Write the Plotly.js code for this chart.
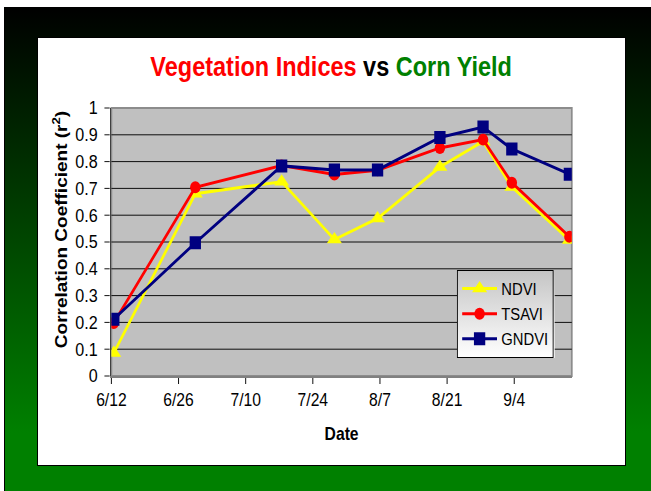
<!DOCTYPE html>
<html>
<head>
<meta charset="utf-8">
<script src="https://cdn.plot.ly/plotly-3.0.1.min.js"></script>
<style>
html,body{margin:0;padding:0;width:651px;height:491px;overflow:hidden;background:#fff}
#bg{position:absolute;left:4px;top:7px;width:647px;height:484px;background:linear-gradient(to bottom,#000000 0%,#008000 88%,#008000 100%);border-left:1px solid #000}
#panel{position:absolute;left:37px;top:37px;width:587px;height:427px;background:#fff;border:1px solid #000}
#chart{position:absolute;left:0;top:0;width:748px;height:491px;transform:scaleX(0.8703);transform-origin:0 0}
</style>
</head>
<body>
<div id="bg"></div>
<div id="panel"></div>
<div id="chart"></div>
<script>
// Data
const dates = ['2004-06-12','2004-06-29','2004-07-17','2004-07-28','2004-08-06','2004-08-19','2004-08-28','2004-09-03','2004-09-15'];
const ndvi  = [0.086, 0.68, 0.725, 0.509, 0.588, 0.78, 0.875, 0.705, 0.507];
const tsavi = [0.198, 0.704, 0.785, 0.752, 0.768, 0.851, 0.882, 0.721, 0.52];
const gndvi = [0.212, 0.497, 0.784, 0.769, 0.769, 0.89, 0.929, 0.847, 0.753];
const seriesNames = ['NDVI','TSAVI','GNDVI'];

const FONT = 'Liberation Sans, Arial, sans-serif';
const DAY = 86400000;

function trace(name, y, color, symbol, size) {
  return {
    type: 'scatter', mode: 'lines+markers', name: name, legendgroup: name,
    x: dates, y: y, xperiod: DAY, xperiodalignment: 'middle',
    line: {color: color, width: 3},
    marker: {color: color, symbol: symbol, size: size, line: {width: 0}}
  };
}

const data = [
  trace(seriesNames[0], ndvi, '#ffff00', 'triangle-up', 15),
  trace(seriesNames[1], tsavi, '#ff0000', 'circle', 12),
  trace(seriesNames[2], gndvi, '#000080', 'square', 13)
];

const gradSvg = '<svg xmlns="http://www.w3.org/2000/svg" width="100" height="100" viewBox="0 0 100 100" preserveAspectRatio="none">' +
  '<defs><linearGradient id="g" x1="0" y1="0" x2="0" y2="1">' +
  '<stop offset="0" stop-color="#c4c4c4"/><stop offset="1" stop-color="#ffffff"/></linearGradient></defs>' +
  '<rect width="100" height="100" fill="url(#g)"/></svg>';

const layout = {
  width: 748, height: 491, autosize: false,
  margin: {l: 127.5, r: 90.8, t: 108, b: 115, pad: 0},
  paper_bgcolor: 'rgba(0,0,0,0)',
  plot_bgcolor: '#c0c0c0',
  font: {family: FONT, color: '#000'},
  title: {
    text: '<b><span style="color:#ff0000">Vegetation Indices</span> vs <span style="color:#008000">Corn Yield</span></b>',
    font: {family: FONT, size: 27, color: '#000'},
    x: 0.5087, xref: 'container', xanchor: 'center',
    y: 0.8635, yref: 'container', yanchor: 'middle'
  },
  xaxis: {
    type: 'date', range: ['2004-06-12', '2004-09-16'],
    tick0: '2004-06-12', dtick: 14 * DAY, tickformat: '%-m/%-d',
    ticks: 'outside', ticklen: 6, tickwidth: 1, tickcolor: '#000',
    ticklabelstandoff: 0,
    showgrid: false, zeroline: false,
    showline: true, linecolor: '#808080', linewidth: 2,
    tickfont: {family: FONT, size: 18, color: '#000'},
    layer: 'below traces'
  },
  yaxis: {
    range: [0, 1], dtick: 0.1, tick0: 0,
    ticks: 'outside', ticklen: 6, tickwidth: 1, tickcolor: '#000',
    ticklabelstandoff: 4,
    showgrid: true, gridcolor: '#000', gridwidth: 1,
    zeroline: false,
    showline: true, linecolor: '#404040', linewidth: 2,
    tickfont: {family: FONT, size: 18.5, color: '#000'},
    layer: 'below traces'
  },
  shapes: [{
    type: 'rect', xref: 'paper', yref: 'paper', x0: 0, x1: 1, y0: 0, y1: 1,
    line: {color: '#8c8c8c', width: 2}, fillcolor: 'rgba(0,0,0,0)', layer: 'below'
  }],
  images: [{
    source: 'data:image/svg+xml;charset=utf-8,' + encodeURIComponent(gradSvg),
    xref: 'paper', yref: 'paper', x: 0.7506, y: 0.3955,
    sizex: 0.2126, sizey: 0.3284, sizing: 'stretch',
    xanchor: 'left', yanchor: 'top', layer: 'above'
  }],
  annotations: [
    {text: '<b>Correlation Coefficient (r<sup>2</sup>)</b>', textangle: -90,
     xref: 'paper', yref: 'paper', x: -0.112, y: 0.5466,
     xanchor: 'center', yanchor: 'middle', showarrow: false,
     font: {family: FONT, size: 19, color: '#000'}},
    {text: '<b>Date</b>', xref: 'paper', yref: 'paper', x: 0.5, y: -0.2164,
     xanchor: 'center', yanchor: 'middle', showarrow: false,
     font: {family: FONT, size: 18, color: '#000'}}
  ],
  legend: {
    x: 0.7506, xanchor: 'left', y: 0.3955, yanchor: 'top',
    bgcolor: 'rgba(0,0,0,0)', bordercolor: '#000', borderwidth: 1,
    font: {family: FONT, size: 17, color: '#000'},
    tracegroupgap: 4, itemwidth: 40, traceorder: 'normal'
  },
  showlegend: true
};

Plotly.newPlot('chart', data, layout, {displayModeBar: false, staticPlot: true});
</script>
</body>
</html>
